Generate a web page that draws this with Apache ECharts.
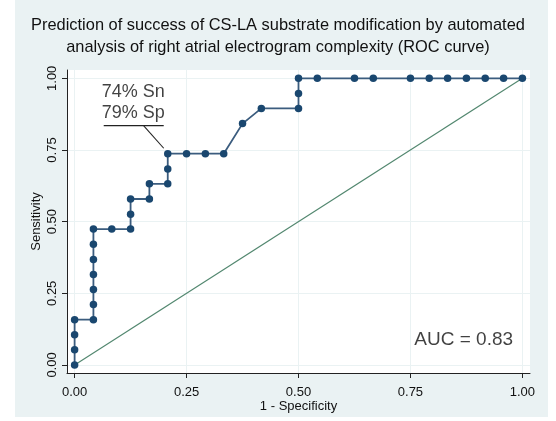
<!DOCTYPE html>
<html><head><meta charset="utf-8">
<script src="https://cdn.jsdelivr.net/npm/echarts@6/dist/echarts.min.js"></script>
<style>html,body{margin:0;padding:0;background:#fff}#c{width:556px;height:421px}</style>
</head><body><div id="c"></div>
<script>
// 1 - Specificity (false positive rate) of each ROC point
const fpr = [0,0,0,0,0.042,0.042,0.042,0.042,0.042,0.042,0.042,0.083,0.125,0.125,0.125,0.167,0.167,0.208,0.208,0.208,0.25,0.292,0.333,0.375,0.417,0.5,0.5,0.5,0.542,0.625,0.667,0.75,0.792,0.833,0.875,0.917,0.958,1];
// Sensitivity of each ROC point
const sens = [0,0.053,0.105,0.158,0.158,0.211,0.263,0.316,0.368,0.421,0.474,0.474,0.474,0.526,0.579,0.579,0.632,0.632,0.684,0.737,0.737,0.737,0.737,0.842,0.895,0.895,0.947,1,1,1,1,1,1,1,1,1,1,1];
const tickValues = [0,0.25,0.5,0.75,1];
const tickLabels = ['0.00','0.25','0.50','0.75','1.00'];
const refLine = [[0,0],[1,1]];
const titleLines = ['Prediction of success of CS-LA substrate modification by automated','analysis of right atrial electrogram complexity (ROC curve)'];
const annotationLines = ['74% Sn','79% Sp'];
const aucText = 'AUC = 0.83';
// annotation anchor (data coords)
const annotUnderline = [[0.065,0.835],[0.199,0.835]];
const annotLeader = [[0.154,0.835],[0.199,0.756]];
const annotTextPos = [0.131,0.915];
const aucPos = [0.869,0.087];

const chart = echarts.init(document.getElementById('c'), null, {renderer:'canvas'});
const FONT = 'Liberation Sans, Arial, sans-serif';
const rocData = fpr.map((x,i)=>[x,sens[i]]);
const fmt = v => { const i = tickValues.findIndex(t=>Math.abs(t-v)<1e-6); return i>=0 ? tickLabels[i] : ''; };

chart.setOption({
  backgroundColor:'#ffffff',
  animation:false,
  graphic:[{type:'rect', z:-10, shape:{x:15,y:0,width:533,height:417}, style:{fill:'#eaf2f3'}}],
  title:{
    text: titleLines.join('\n'),
    left:'center', top:9,
    textStyle:{fontFamily:FONT, fontSize:16.4, fontWeight:'normal', color:'#111', lineHeight:22}
  },
  grid:{left:67, right:26, top:70, bottom:48, show:true, backgroundColor:'#ffffff', borderWidth:0},
  xAxis:{
    type:'value', min:-0.017, max:1.017,
    name:'1 - Specificity', nameLocation:'middle', nameGap:27, nameMoveOverlap:false,
    nameTextStyle:{fontFamily:FONT, fontSize:13, color:'#111'},
    axisLine:{show:true, onZero:false, lineStyle:{color:'#222', width:1}},
    axisTick:{show:true, length:5, customValues:tickValues, lineStyle:{color:'#222'}},
    axisLabel:{customValues:tickValues, formatter:fmt, fontFamily:FONT, fontSize:13, color:'#111', margin:13},
    splitLine:{show:true, lineStyle:{color:'#eaf2f3', width:1}}
  },
  yAxis:{
    type:'value', min:-0.028, max:1.029,
    name:'Sensitivity', nameLocation:'middle', nameGap:24, nameMoveOverlap:false,
    nameTextStyle:{fontFamily:FONT, fontSize:13, color:'#111'},
    axisLine:{show:true, onZero:false, lineStyle:{color:'#222', width:1}},
    axisTick:{show:true, length:5, customValues:tickValues, lineStyle:{color:'#222'}},
    axisLabel:{customValues:tickValues, formatter:fmt, rotate:90, fontFamily:FONT, fontSize:13, color:'#111', margin:8},
    splitLine:{show:true, lineStyle:{color:'#eaf2f3', width:1}}
  },
  series:[
    {type:'line', data:refLine, symbol:'none', lineStyle:{color:'#52876f', width:1.2}, z:2, silent:true},
    {type:'line', data:rocData, symbol:'circle', symbolSize:7.5,
     itemStyle:{color:'#1a476f', borderWidth:0}, lineStyle:{color:'#3b5c7e', width:1.8}, z:3},
    {type:'line', data:annotUnderline, symbol:'none', lineStyle:{color:'#222', width:1.3}, z:4, silent:true},
    {type:'line', data:annotLeader, symbol:'none', lineStyle:{color:'#222', width:1.1}, z:4, silent:true},
    {type:'scatter', data:[annotTextPos], symbolSize:0, z:5, silent:true,
     label:{show:true, position:'inside', formatter:annotationLines.join('\n'), fontFamily:FONT, fontSize:18, lineHeight:21, color:'#111'}},
    {type:'scatter', data:[aucPos], symbolSize:0, z:5, silent:true,
     label:{show:true, position:'inside', formatter:aucText, fontFamily:FONT, fontSize:19, color:'#111'}}
  ]
});
</script></body></html>
